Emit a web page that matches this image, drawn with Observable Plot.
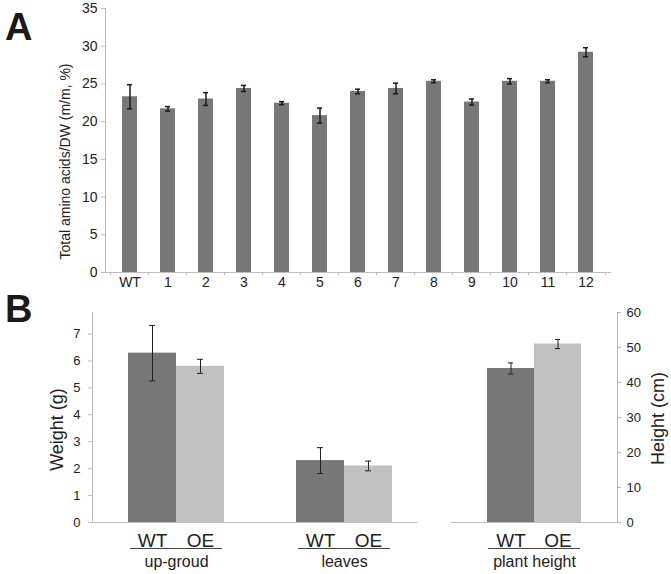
<!DOCTYPE html>
<html><head><meta charset="utf-8">
<script src="https://cdn.jsdelivr.net/npm/d3@7"></script>
<script src="https://cdn.jsdelivr.net/npm/@observablehq/plot@0.6"></script>
<style>
body{margin:0;background:#fff;font-family:"Liberation Sans",Arial,sans-serif;}
#root{position:relative;width:671px;height:574px;overflow:hidden;background:#fff;}
.abs{position:absolute;left:0;}
.letter{position:absolute;font-weight:bold;font-size:38px;line-height:1;color:#1a1a1a;font-family:"Liberation Sans",Arial,sans-serif;}
</style></head><body><div id="root"></div>
<script>
// Panel A data
const lines = ["WT","1","2","3","4","5","6","7","8","9","10","11","12"];
const amino = [23.3, 21.7, 23.0, 24.4, 22.45, 20.8, 24.0, 24.4, 25.35, 22.6, 25.35, 25.35, 29.2];
const aminoErr = [1.6, 0.3, 0.85, 0.4, 0.2, 1.0, 0.3, 0.7, 0.2, 0.4, 0.35, 0.2, 0.6];
const ticksA = [0,5,10,15,20,25,30,35];
const labelA = "Total amino acids/DW (m/m, %)";

// Panel B data
const genotypes = ["WT","OE"];
const weightGroups = ["up-groud","leaves"];
const weightWT = [6.29, 2.30];
const weightWTErr = [1.03, 0.48];
const weightOE = [5.80, 2.10];
const weightOEErr = [0.26, 0.18];
const weightTicks = [0,1,2,3,4,5,6,7];
const labelWeight = "Weight (g)";

const heightGroups = ["plant height"];
const heightWT = [44.0];
const heightWTErr = [1.6];
const heightOE = [51.0];
const heightOEErr = [1.3];
const heightTicks = [0,10,20,30,40,50,60];
const labelHeight = "Height (cm)";

const FONT = '"Liberation Sans", Arial, sans-serif';
const DARK = "#777777", LIGHT = "#c0c0c0", AXIS = "#bdbdbd", TXT = "#222222";
const root = document.getElementById("root");

// ---------- Panel A ----------
const dataA = lines.map((c,i)=>({line:c, value:amino[i], err:aminoErr[i]}));
const mLA = 105, mRA = 60;
const halfStepA = (671 - mLA - mRA) / lines.length / 2;
const plotA = Plot.plot({
  width: 671, height: 290,
  marginLeft: mLA, marginRight: mRA, marginTop: 8, marginBottom: 18,
  style: {fontFamily: FONT, fontSize: "14px", color: TXT, background: "transparent", overflow: "visible", maxWidth: "none"},
  x: {domain: lines, paddingInner: 0.6, paddingOuter: 0.3},
  y: {domain: [0, 35]},
  marks: [
    Plot.barY(dataA, {x: "line", y: "value", fill: DARK}),
    Plot.ruleX(dataA, {x: "line", y1: d => d.value - d.err, y2: d => d.value + d.err, stroke: "#1a1a1a", strokeWidth: 1.5}),
    Plot.tickY(dataA, {x: "line", y: d => d.value + d.err, stroke: "#1a1a1a", strokeWidth: 1.5, insetLeft: 5, insetRight: 5}),
    Plot.tickY(dataA, {x: "line", y: d => d.value - d.err, stroke: "#1a1a1a", strokeWidth: 1.5, insetLeft: 5, insetRight: 5}),
    Plot.ruleY([0], {stroke: AXIS}),
    Plot.frame({anchor: "left", stroke: AXIS}),
    Plot.axisY({ticks: ticksA, tickSize: 4, tickPadding: 4, stroke: AXIS, fill: TXT, fontSize: 14, label: null}),
    Plot.axisX({tickSize: 0, tickPadding: 5, fill: TXT, fontSize: 14, label: null}),
    Plot.axisX({tickSize: 3, tickFormat: () => "", dx: -halfStepA, stroke: AXIS, label: null}),
    Plot.axisX({ticks: [lines[lines.length-1]], tickSize: 3, tickFormat: () => "", dx: halfStepA, stroke: AXIS, label: null}),
    Plot.text([labelA], {frameAnchor: "left", rotate: -90, dx: -40, dy: 21, fontSize: 14, fill: TXT, textAnchor: "middle"})
  ]
});
plotA.classList.add("abs");
plotA.style.top = "0px";
root.appendChild(plotA);

// ---------- Panel B left (weight) ----------
const dataW = [];
weightGroups.forEach((g, i) => {
  dataW.push({group: g, geno: "WT", value: weightWT[i], err: weightWTErr[i]});
  dataW.push({group: g, geno: "OE", value: weightOE[i], err: weightOEErr[i]});
});
const underW = weightGroups.map(g => ({group: g, base: 0}));
const plotBL = Plot.plot({
  width: 428, height: 284,
  marginLeft: 92, marginRight: 0, marginTop: 22, marginBottom: 52,
  style: {fontFamily: FONT, fontSize: "13px", color: TXT, background: "transparent", overflow: "visible", maxWidth: "none"},
  fx: {domain: weightGroups, padding: 0},
  x: {domain: genotypes, paddingInner: 0, paddingOuter: 0.75},
  y: {domain: [0, 7.8]},
  color: {domain: genotypes, range: [DARK, LIGHT]},
  marks: [
    Plot.barY(dataW, {fx: "group", x: "geno", y: "value", fill: "geno"}),
    Plot.ruleX(dataW, {fx: "group", x: "geno", y1: d => d.value - d.err, y2: d => d.value + d.err, stroke: "#222", strokeWidth: 1}),
    Plot.tickY(dataW, {fx: "group", x: "geno", y: d => d.value + d.err, stroke: "#222", strokeWidth: 1, insetLeft: 21, insetRight: 21}),
    Plot.tickY(dataW, {fx: "group", x: "geno", y: d => d.value - d.err, stroke: "#222", strokeWidth: 1, insetLeft: 21, insetRight: 21}),
    Plot.ruleY([0], {stroke: AXIS}),
    Plot.frame({anchor: "left", stroke: AXIS, facetAnchor: "left"}),
    Plot.axisY({ticks: weightTicks, tickSize: 4, tickPadding: 8, stroke: AXIS, fill: TXT, fontSize: 13, label: null}),
    Plot.axisX({tickSize: 0, tickPadding: 11, fill: TXT, fontSize: 19, label: null}),
    Plot.ruleY(underW, {fx: "group", y: "base", dy: 26, insetLeft: 38, insetRight: 38, stroke: "#444"}),
    Plot.axisFx({anchor: "bottom", tickSize: 0, tickPadding: 33, fill: TXT, fontSize: 16, label: null}),
    Plot.text([{group: weightGroups[0], label: labelWeight}], {fx: "group", text: "label", frameAnchor: "left", rotate: -90, dx: -35, dy: 12, fontSize: 18, fill: TXT, textAnchor: "middle"})
  ]
});
const wrap = document.createElement("div");
wrap.style.cssText = "position:absolute;left:0;top:290px;width:417px;height:284px;overflow:hidden;";
wrap.appendChild(plotBL);
root.appendChild(wrap);

// ---------- Panel B right (height) ----------
const dataH = [];
heightGroups.forEach((g, i) => {
  dataH.push({group: g, geno: "WT", value: heightWT[i], err: heightWTErr[i]});
  dataH.push({group: g, geno: "OE", value: heightOE[i], err: heightOEErr[i]});
});
const underH = heightGroups.map(g => ({group: g, base: 0}));
const plotBR = Plot.plot({
  width: 671, height: 284,
  marginLeft: 451, marginRight: 54, marginTop: 22, marginBottom: 52,
  style: {fontFamily: FONT, fontSize: "13px", color: TXT, background: "transparent", overflow: "visible", maxWidth: "none"},
  fx: {domain: heightGroups, padding: 0},
  x: {domain: genotypes, paddingInner: 0, paddingOuter: 0.75},
  y: {domain: [0, 60]},
  color: {domain: genotypes, range: [DARK, LIGHT]},
  marks: [
    Plot.barY(dataH, {fx: "group", x: "geno", y: "value", fill: "geno"}),
    Plot.ruleX(dataH, {fx: "group", x: "geno", y1: d => d.value - d.err, y2: d => d.value + d.err, stroke: "#222", strokeWidth: 1}),
    Plot.tickY(dataH, {fx: "group", x: "geno", y: d => d.value + d.err, stroke: "#222", strokeWidth: 1, insetLeft: 21, insetRight: 21}),
    Plot.tickY(dataH, {fx: "group", x: "geno", y: d => d.value - d.err, stroke: "#222", strokeWidth: 1, insetLeft: 21, insetRight: 21}),
    Plot.ruleY([0], {stroke: AXIS}),
    Plot.frame({anchor: "right", stroke: AXIS}),
    Plot.axisY({anchor: "right", ticks: heightTicks, tickSize: 3, tickPadding: 6, stroke: AXIS, fill: TXT, fontSize: 13, label: null}),
    Plot.axisX({tickSize: 0, tickPadding: 11, fill: TXT, fontSize: 19, label: null}),
    Plot.ruleY(underH, {fx: "group", y: "base", dy: 26, insetLeft: 37, insetRight: 37, stroke: "#444"}),
    Plot.axisFx({anchor: "bottom", tickSize: 0, tickPadding: 33, fill: TXT, fontSize: 16, label: null}),
    Plot.text([labelHeight], {frameAnchor: "right", rotate: -90, dx: 41, dy: 1, fontSize: 18, fill: TXT, textAnchor: "middle"})
  ]
});
plotBR.classList.add("abs");
plotBR.style.top = "290px";
root.appendChild(plotBR);

// Panel letters
const la = document.createElement("div");
la.className = "letter"; la.textContent = "A"; la.style.left = "5px"; la.style.top = "8px";
root.appendChild(la);
const lb = document.createElement("div");
lb.className = "letter"; lb.textContent = "B"; lb.style.left = "5px"; lb.style.top = "290px";
root.appendChild(lb);
</script>
</body></html>
